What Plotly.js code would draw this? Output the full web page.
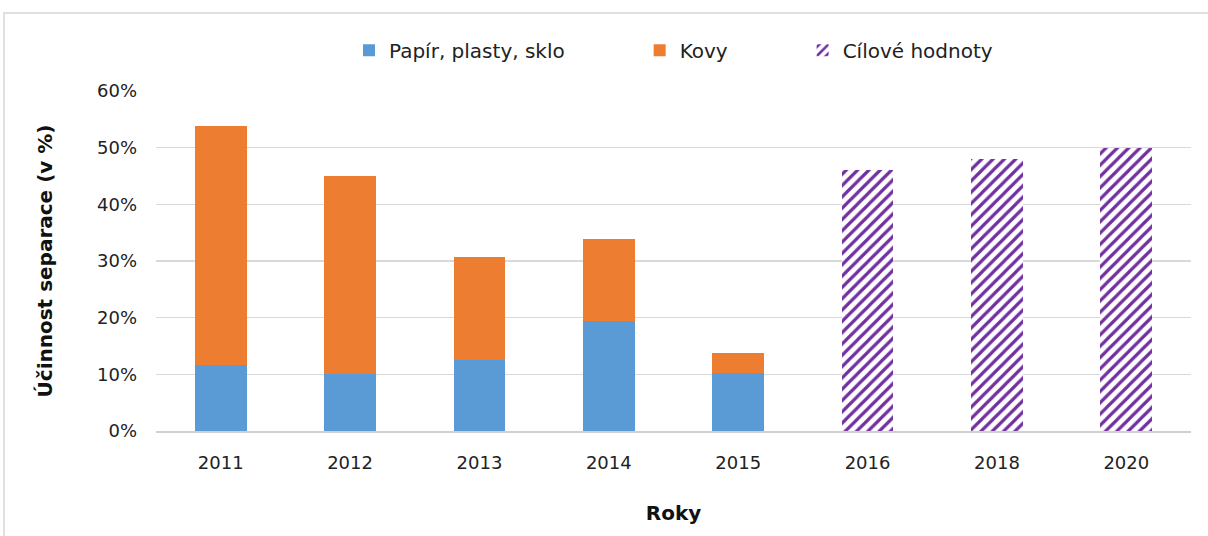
<!DOCTYPE html>
<html>
<head>
<meta charset="utf-8">
<script src="https://cdn.plot.ly/plotly-3.0.1.min.js"></script>
<style>
html,body{margin:0;padding:0;background:#fff;}
#chart{width:1208px;height:536px;}
</style>
</head>
<body>
<div id="chart"></div>
<script>
var categories = ['2011', '2012', '2013', '2014', '2015', '2016', '2018', '2020'];
var papirPlastySklo = [0.116, 0.101, 0.126, 0.194, 0.103, null, null, null];
var kovy = [0.422, 0.349, 0.181, 0.144, 0.034, null, null, null];
var cilove = [null, null, null, null, null, 0.46, 0.48, 0.50];
var seriesNames = ['Papír, plasty, sklo', 'Kovy', 'Cílové hodnoty'];
var yTickVals = [0, 0.1, 0.2, 0.3, 0.4, 0.5, 0.6];

var pad = '\u00a0'.repeat(11);
var font = 'DejaVu Sans, Arial, sans-serif';

var traces = [
  {type: 'bar', x: categories, y: papirPlastySklo, name: seriesNames[0] + pad,
   marker: {color: '#5B9BD5', line: {width: 0}}, hoverinfo: 'x+y'},
  {type: 'bar', x: categories, y: kovy, name: seriesNames[1] + pad,
   marker: {color: '#ED7D31', line: {width: 0}}, hoverinfo: 'x+y'},
  {type: 'bar', x: categories, y: cilove, name: seriesNames[2],
   marker: {color: 'white', line: {width: 0},
            pattern: {shape: '/', fgcolor: '#7030A0', bgcolor: 'white', fgopacity: 1, size: 8, solidity: 0.4, fillmode: 'replace'}},
   hoverinfo: 'x+y'}
];

var layout = {
  width: 1208, height: 536,
  margin: {l: 156, r: 17, t: 91, b: 105},
  paper_bgcolor: 'white', plot_bgcolor: 'white',
  barmode: 'stack',
  bargap: 0.6,
  font: {family: font, color: '#222', size: 18},
  showlegend: true,
  legend: {
    orientation: 'h', x: 0.5, xanchor: 'center', y: 1.12, yanchor: 'middle',
    font: {family: font, size: 20, color: '#222'},
    traceorder: 'normal', itemwidth: 30
  },
  xaxis: {
    type: 'category', categoryorder: 'array', categoryarray: categories,
    showgrid: false, zeroline: false,
    showline: true, linecolor: '#d0d0d0', linewidth: 2,
    ticks: '', ticklabelstandoff: 14,
    tickfont: {family: font, size: 18, color: '#222'},
    title: {text: 'Roky', font: {family: font, size: 20, color: '#111', weight: 'bold'}, standoff: 34}
  },
  yaxis: {
    range: [0, 0.6], tickvals: yTickVals, tickformat: '.0%',
    showgrid: true, gridcolor: '#d9d9d9', gridwidth: 1.5,
    zeroline: false, showline: false, ticks: '', ticklabelstandoff: 18,
    tickfont: {family: font, size: 18, color: '#222'},
    title: {text: 'Účinnost separace (v %)', font: {family: font, size: 20, color: '#111', weight: 'bold'}, standoff: 38}
  },
  shapes: [
    {type: 'rect', xref: 'paper', yref: 'paper', x0: -0.1469, x1: 1.1, y0: -0.5, y1: 1.2294,
     line: {color: '#d6d6d6', width: 1.5}, fillcolor: 'rgba(0,0,0,0)', layer: 'below'}
  ]
};

Plotly.newPlot('chart', traces, layout, {displayModeBar: false, staticPlot: true});
</script>
</body>
</html>
